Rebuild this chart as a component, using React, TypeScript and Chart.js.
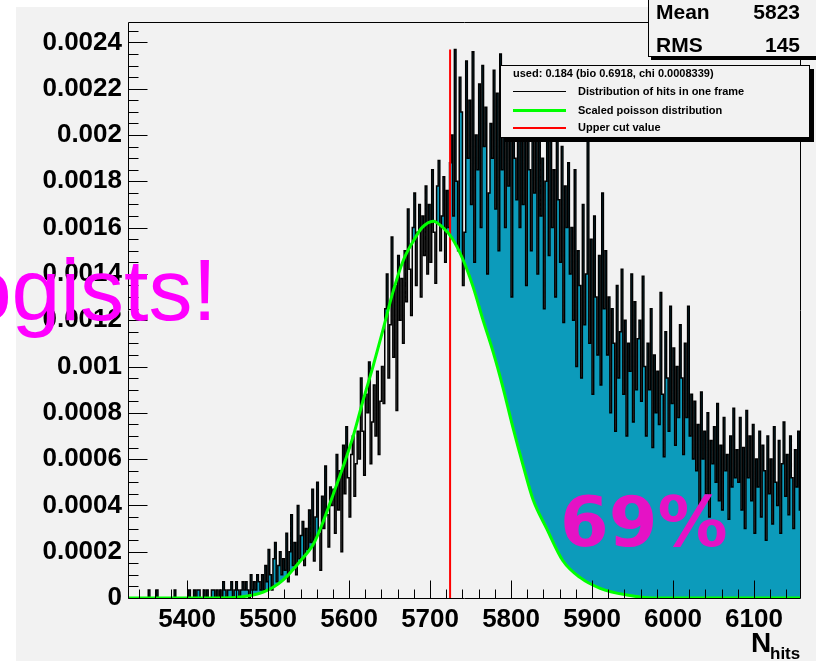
import { useEffect, useRef } from "react";
import { Chart, registerables } from "chart.js";

Chart.register(...registerables);

// ---------- data ----------
const BIN_START = 5328;
const BIN_WIDTH = 2;
// histogram contents per 2-unit bin, in units of 1e-5
const histE5 = [
  // 5328–5398
  0, 0, 0, 0, 0, 0, 0, 0, 0, 0, 0, 0, 3.5, 0, 0, 0, 0, 3.5, 0, 0, 0, 0, 0, 0, 0, 0, 0, 0, 3.5, 0, 0, 0, 0, 0, 0, 0,
  // 5400–5438
  0, 3.5, 0, 0, 3.5, 0, 3.5, 3.5, 0, 0, 3.5, 0, 3.5, 0, 0, 3.5, 3.5, 0, 3.5, 0,
  // 5440–5470
  3.5, 0, 7, 3.5, 0, 3.5, 3.5, 7, 0, 3.5, 7, 3.5, 0, 3.5, 7, 3.5,
  // 5472–5490
  7, 3.5, 0, 10, 3.5, 7, 3.5, 10, 7, 3.5,
  // 5492–5518
  10, 3.5, 14, 7, 21, 10, 3.5, 17, 24, 7, 14, 20, 10, 17,
  // 5520–5550
  12, 28, 7, 20, 36, 14, 24, 10, 40, 17, 27, 33, 14, 30, 21, 38,
  // 5552–5578
  24, 47, 16, 35, 50, 28, 12, 44, 30, 57, 36, 22, 48, 40,
  // 5580–5610
  47, 28, 62, 38, 55, 20, 66, 45, 74, 52, 35, 62, 70, 44, 58, 72,
  // 5612–5638
  60, 95, 72, 53, 88, 80, 102, 58, 76, 92, 70, 98, 62, 85,
  // 5640–5666
  100, 84, 125, 140, 95, 118, 156, 104, 135, 81, 148, 120, 138, 110,
  // 5668–5696
  150, 128, 168, 142, 122, 160, 175, 135, 158, 170, 130, 165, 148, 178, 140,
  // 5698–5724
  170, 145, 185, 158, 136, 178, 189, 150, 165, 182, 145, 176, 160, 188,
  // 5726–5810
  200, 165, 237, 180, 150, 225, 210, 135, 158, 232, 190, 215, 170, 236, 145, 200, 185, 222, 160, 230,
  195, 212, 140, 175, 205, 190, 228, 168, 218, 150, 235, 185, 200, 160, 226, 178, 205, 130, 215, 190,
  172, 220, 160,
  // 5812–5872
  215, 170, 200, 135, 222, 185, 150, 205, 175, 198, 140, 210, 165, 190, 125, 180, 205, 148, 220, 160,
  185, 130, 200, 172, 145, 195, 119, 178, 160, 188, 140,
  // 5874–5914
  160, 120, 185, 100, 150, 135, 95, 170, 118, 140, 200, 110, 155, 88, 165, 130, 105, 148, 92, 175, 125,
  // 5916–5956
  150, 105, 130, 80, 125, 110, 72, 135, 95, 115, 142, 88, 120, 70, 110, 98, 140, 76, 128, 90, 112,
  // 5958–6008
  120, 85, 139, 100, 70, 110, 90, 125, 65, 105, 80, 98, 75, 132, 88, 61, 115, 95, 72, 126, 84, 108, 66, 100, 78, 118,
  // 6010–6024
  95, 62, 110, 78, 126, 70, 88, 60,
  // 6026–6078
  85, 55, 75, 40, 89, 60, 72, 45, 80, 35, 68, 58, 74, 50, 84, 42, 66, 38, 78, 55, 62, 34, 70, 48, 82, 52, 64,
  // 6080–6158
  50, 78, 38, 65, 30, 81, 52, 70, 42, 75, 28, 60, 48, 72, 35, 66, 55, 25, 70, 45,
  60, 32, 74, 50, 40, 68, 28, 58, 76, 44, 62, 36, 70, 52, 30, 64, 48, 72, 38, 55,
];
const poissonX = [
  5327, 5440, 5465, 5494, 5518, 5540, 5556, 5568, 5580, 5593, 5605, 5617, 5630, 5642, 5654, 5667, 5679, 5690,
  5704, 5716, 5727, 5741, 5753, 5765, 5778, 5790, 5802, 5815, 5827, 5844, 5864, 5885, 5910, 5943, 5975, 6158,
];
const poissonE5 = [
  0, 0, 0.4, 2.5, 7.6, 16.1, 23.3, 33, 44.4, 57.1, 69.8, 85, 100.6, 116, 132, 145.9, 154, 160,
  162.8, 160, 155.5, 145.9, 134.5, 120.5, 106.1, 90.9, 74, 57.1, 42.7, 30, 16.1, 8.9, 4.2, 1.3, 0, 0,
];
const cutValue = 5724.7;
const cutTop = 0.00237;
const xTicks = [5400, 5500, 5600, 5700, 5800, 5900, 6000, 6100];
const yTicks = [0, 0.0002, 0.0004, 0.0006, 0.0008, 0.001, 0.0012, 0.0014, 0.0016, 0.0018, 0.002, 0.0022, 0.0024];
const xMin = 5327;
const xMax = 6158;
const yMax = 0.00249;
const statsRows = [
  ["Mean", "5823"],
  ["RMS", "145"],
];
const legendHeader = "used: 0.184 (bio 0.6918, chi 0.0008339)";
const legendLabels = ["Distribution of hits in one frame", "Scaled poisson distribution", "Upper cut value"];
const overlayLeft = "ogists!";
const overlayPct = "69%";

// ---------- styles ----------
const BG = "#f2f2f2";
const TEAL = "#0c9bbb";
const GREEN = "#00ff00";
const RED = "#ff0000";
const SANS = '"Liberation Sans", Arial, Helvetica, sans-serif';

const decor = {
  id: "decor",
  beforeDraw(chart: any) {
    const c = chart.ctx;
    c.save();
    c.fillStyle = "#ffffff";
    c.fillRect(0, 0, chart.width, chart.height);
    c.fillStyle = BG;
    c.fillRect(16, 7, chart.width - 16, chart.height - 7);
    c.restore();
  },
  afterDatasetsDraw(chart: any) {
    const c = chart.ctx;
    const a = chart.chartArea;
    const xs = chart.scales.x;
    const ys = chart.scales.y;
    c.save();
    c.strokeStyle = "#000";
    c.lineWidth = 1;
    const L = Math.round(a.left) + 0.5;
    const R = Math.round(a.right) - 0.5;
    const T = Math.round(a.top) + 0.5;
    const B = Math.round(a.bottom) + 0.5;
    c.beginPath();
    c.moveTo(L, T);
    c.lineTo(R, T);
    c.lineTo(R, B);
    c.lineTo(L, B);
    c.closePath();
    c.stroke();
    c.beginPath();
    for (let v = Math.ceil(xMin / 20) * 20; v <= xMax; v += 20) {
      const px = Math.round(xs.getPixelForValue(v)) + 0.5;
      const len = v % 100 === 0 ? 18 : 9;
      c.moveTo(px, B);
      c.lineTo(px, B - len);
    }
    for (let k = 0; k * 0.00005 <= yMax; k++) {
      const v = k * 0.00005;
      const py = Math.round(ys.getPixelForValue(v)) + 0.5;
      const len = k % 4 === 0 ? 19 : 10;
      c.moveTo(L, py);
      c.lineTo(L + len, py);
    }
    c.stroke();
    c.restore();
  },
  afterDraw(chart: any) {
    const c = chart.ctx;
    c.save();
    // stats box
    c.fillStyle = "#000";
    c.fillRect(651, 56, 170, 4);
    c.fillStyle = BG;
    c.fillRect(648, -2, 172, 58);
    c.strokeStyle = "#000";
    c.lineWidth = 1;
    c.strokeRect(648.5, -2, 172, 58.5);
    c.fillStyle = "#000";
    c.font = `bold 21px ${SANS}`;
    c.textBaseline = "alphabetic";
    const statsY = [18.5, 52];
    statsRows.forEach((r, i) => {
      c.textAlign = "left";
      c.fillText(r[0], 656, statsY[i]);
      c.textAlign = "right";
      c.fillText(r[1], 800, statsY[i]);
    });

    // legend box
    c.fillStyle = "#000";
    c.fillRect(504, 69, 310, 73);
    c.fillStyle = BG;
    c.fillRect(500, 65, 310, 73);
    c.strokeRect(500.5, 65.5, 309, 72);
    c.fillStyle = "#000";
    c.font = `bold 11px ${SANS}`;
    c.textAlign = "left";
    c.textBaseline = "middle";
    c.fillText(legendHeader, 513, 73.5);
    const rows = [91.5, 110.5, 128];
    const colors = ["#000000", GREEN, RED];
    const widths = [1, 3, 2];
    legendLabels.forEach((t, i) => {
      c.strokeStyle = colors[i];
      c.lineWidth = widths[i];
      c.beginPath();
      c.moveTo(513, rows[i]);
      c.lineTo(566, rows[i]);
      c.stroke();
      c.fillStyle = "#000";
      c.fillText(t, 578, rows[i]);
    });

    // axis title N_hits
    c.textBaseline = "alphabetic";
    c.textAlign = "left";
    c.font = `bold 28px ${SANS}`;
    c.fillText("N", 751, 652);
    c.font = `bold 17px ${SANS}`;
    c.fillText("hits", 770, 659);

    // magenta overlays
    c.fillStyle = "#ff00ff";
    c.font = `88px ${SANS}`;
    c.textAlign = "right";
    c.fillText(overlayLeft, 217, 320);
    c.fillStyle = "#e512c5";
    c.font = `bold 70px "DejaVu Sans", ${SANS}`;
    c.textAlign = "left";
    c.fillText(overlayPct, 560, 546);
    c.restore();
  },
};

export default function App() {
  const ref = useRef<HTMLCanvasElement | null>(null);
  useEffect(() => {
    if (!ref.current) return;
    const histPts = histE5.map((v, i) => ({ x: BIN_START + i * BIN_WIDTH, y: v * 1e-5 }));
    histPts.push({ x: BIN_START + histE5.length * BIN_WIDTH, y: histE5[histE5.length - 1] * 1e-5 });
    const poisPts = poissonX.map((x, i) => ({ x, y: poissonE5[i] * 1e-5 }));
    const cutPts = [
      { x: cutValue, y: 0 },
      { x: cutValue, y: cutTop },
    ];
    const tickFont = { family: SANS, size: 26, weight: "bold" as const };
    const chart = new Chart(ref.current, {
      type: "line",
      data: {
        datasets: [
          { data: histPts, stepped: "before", fill: "origin", backgroundColor: TEAL, borderWidth: 0, borderColor: "rgba(0,0,0,0)", pointRadius: 0, order: 5 },
          { data: poisPts, cubicInterpolationMode: "monotone", fill: "origin", backgroundColor: BG, borderWidth: 0, borderColor: "rgba(0,0,0,0)", pointRadius: 0, order: 4 },
          { data: histPts, stepped: "before", fill: false, borderColor: "#000000", borderWidth: 1.5, pointRadius: 0, order: 3 },
          { data: cutPts, fill: false, borderColor: RED, borderWidth: 2, pointRadius: 0, order: 2 },
          { data: poisPts, cubicInterpolationMode: "monotone", fill: false, borderColor: GREEN, borderWidth: 3, pointRadius: 0, order: 1 },
        ] as any,
      },
      options: {
        animation: false,
        responsive: false,
        events: [],
        layout: { padding: { left: 0, top: 9, right: 15, bottom: 0 } },
        plugins: { legend: { display: false }, tooltip: { enabled: false } },
        scales: {
          x: {
            type: "linear",
            min: xMin,
            max: xMax,
            grid: { display: false, drawTicks: false },
            border: { display: false },
            ticks: { font: tickFont, color: "#000", padding: 6, maxRotation: 0, autoSkip: false, callback: (v: any) => String(v) },
            afterBuildTicks: (s: any) => {
              s.ticks = xTicks.map((v) => ({ value: v }));
            },
            afterFit: (s: any) => {
              s.height = 63;
            },
          },
          y: {
            type: "linear",
            min: 0,
            max: yMax,
            grid: { display: false, drawTicks: false },
            border: { display: false },
            ticks: { font: tickFont, color: "#000", padding: 6, autoSkip: false, callback: (v: any) => String(Number(Number(v).toFixed(5))) },
            afterBuildTicks: (s: any) => {
              s.ticks = yTicks.map((v) => ({ value: v }));
            },
            afterFit: (s: any) => {
              s.width = 128;
            },
          },
        },
      } as any,
      plugins: [decor],
    });
    return () => chart.destroy();
  }, []);
  return (
    <div style={{ position: "fixed", left: 0, top: 0, width: 816, height: 661, background: "#fff" }}>
      <canvas ref={ref} width={816} height={661} style={{ display: "block", width: 816, height: 661 }} />
    </div>
  );
}
